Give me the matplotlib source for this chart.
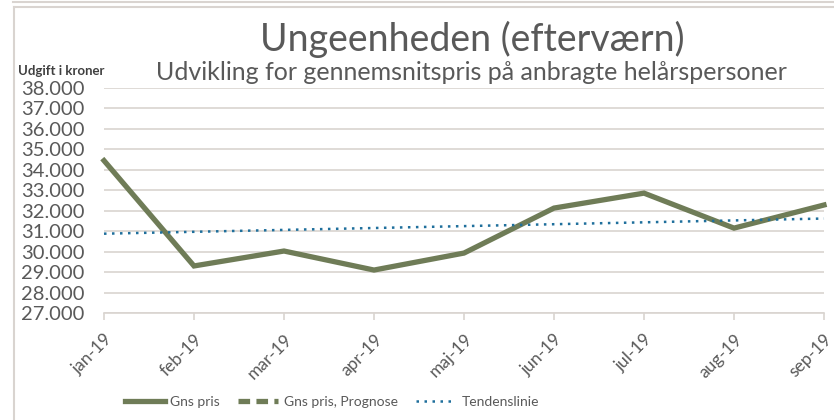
import matplotlib
matplotlib.use("Agg")
import matplotlib.pyplot as plt
import numpy as np
from matplotlib.ticker import FuncFormatter, MultipleLocator
from matplotlib.lines import Line2D

months = ["jan-19", "feb-19", "mar-19", "apr-19", "maj-19", "jun-19", "jul-19", "aug-19", "sep-19"]
gns_pris = [34450, 29300, 30030, 29100, 29930, 32130, 32860, 31150, 32280]
prognose = [np.nan] * len(months)

green = "#6f7c57"
blue = "#1f6f9c"
grid_col = "#d9d4d0"
text_col = "#595959"

plt.rcParams["font.family"] = ["Lato", "DejaVu Sans"]

fig = plt.figure(figsize=(8.34, 4.2), dpi=100)
ax = fig.add_axes([104 / 834, 1 - 313 / 420, 720 / 834, 225 / 420])

x = np.arange(len(months))
ax.plot(x, gns_pris, color=green, lw=3.8, solid_joinstyle="miter", clip_on=False, zorder=3)
ax.plot(x, prognose, color=green, lw=3.8, ls="--")

# linear trend line of the series
coef = np.polyfit(x, gns_pris, 1)
ax.plot(x, np.polyval(coef, x), color=blue, lw=1.8, ls=(0, (1, 2.2)), zorder=4, clip_on=False)

ax.set_xlim(0, len(months) - 1)
ax.set_ylim(27000, 38000)
ax.yaxis.set_major_locator(MultipleLocator(1000))
ax.yaxis.set_major_formatter(FuncFormatter(lambda v, p: f"{int(v):,}".replace(",", ".")))
ax.grid(axis="y", color=grid_col, lw=1.2)
ax.set_axisbelow(True)
for s in ["top", "right", "left"]:
    ax.spines[s].set_visible(False)
ax.spines["bottom"].set_color(grid_col)
ax.spines["bottom"].set_linewidth(1.2)

ax.set_xticks(x)
ax.set_xticklabels(months, rotation=45, ha="right", va="top", rotation_mode="anchor")
ax.tick_params(axis="x", colors=text_col, length=5, width=1.2, color=grid_col, labelsize=12.5, pad=8)
ax.tick_params(axis="y", length=0, labelsize=14.5, labelcolor=text_col, pad=14)

fig.text(0.566, 0.905, "Ungeenheden (efterværn)", ha="center", va="center", fontsize=27, color=text_col)
fig.text(0.565, 0.827, "Udvikling for gennemsnitspris på anbragte helårspersoner", ha="center",
         va="center", fontsize=18, color=text_col)
fig.text(0.022, 0.832, "Udgift i kroner", ha="left", va="center", fontsize=9.5, fontweight="bold",
         color="#404040")

handles = [
    Line2D([], [], color=green, lw=3.8),
    Line2D([], [], color=green, lw=3.8, ls=(0, (2.2, 1.2))),
    Line2D([], [], color=blue, lw=1.8, ls=(0, (1, 2.2))),
]
fig.legend(handles, ["Gns pris", "Gns pris, Prognose", "Tendenslinie"], loc="center",
           bbox_to_anchor=(0.398, 0.043), ncol=3, frameon=False, fontsize=10, labelcolor=text_col,
           handlelength=2.9, handletextpad=0.4, columnspacing=1.3)

# chart frame borders
fig.add_artist(Line2D([13 / 834, 1], [1 - 1.5 / 420] * 2, color=grid_col, lw=1.5))
fig.add_artist(Line2D([14 / 834, 1], [1 - 6.5 / 420] * 2, color=grid_col, lw=1.5))
fig.add_artist(Line2D([14 / 834] * 2, [0, 1 - 6.5 / 420], color=grid_col, lw=1.5))

fig.savefig("out.png", dpi=100)
